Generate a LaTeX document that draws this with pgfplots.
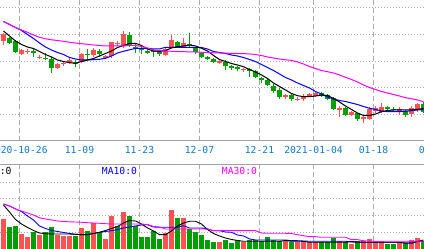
\documentclass[border=0pt]{standalone}
\usepackage{pgfplots}
\pgfplotsset{compat=1.18}
\usepackage{pgfplotstable}
\usepackage{fontspec}
\newfontfamily\mono{DejaVu Sans Mono}
\definecolor{cred}{RGB}{250,82,82}
\definecolor{cgreen}{RGB}{0,158,0}
\definecolor{lblue}{RGB}{20,120,200}
\definecolor{gridc}{RGB}{170,170,170}
\definecolor{axc}{RGB}{160,160,160}
\definecolor{mablue}{RGB}{0,0,255}
\definecolor{mamag}{RGB}{255,0,255}

\pgfplotstableread{
k o h l c
0 100.3 108.3 96 107
3 87 92.3 85.5 91.3
4 89 91.7 87.3 90
6 83.3 86 82 84.3
9 73.3 78.3 71.7 76.7
10 77.2 79.8 74.7 78.2
11 77.7 83.2 76.8 81.3
13 79.3 88 77.5 86.5
15 86 92.7 84.3 91
17 83.3 86.3 82.3 85
18 85 99.3 83 98.7
19 97.2 100.3 95 98.2
20 95 110 93 107
27 86 93.2 84.5 91.8
28 93.7 106 92.7 101
30 94.3 103 92.7 98.3
36 78.7 81 77 79.7
40 71.2 73.3 69.3 72.2
47 44.5 47.3 42.3 45.5
49 41.3 44 39.7 42.3
50 42.3 47.3 40.2 44.7
51 45.5 48.3 43.7 46.5
52 44.7 50.3 44 48.3
56 31.8 34.5 23.5 32.8
58 26 30 25.3 29
60 21.7 25 17.7 23.7
61 22.3 33.5 21 32
62 30 35 27.7 32.7
63 29.3 37.7 27.7 33.7
66 30.5 34.3 25.7 31.5
68 26.7 35 24.3 33.3
69 31.7 38.3 29.3 37
}\redc

\pgfplotstableread{
k o h l c
1 103 104 97 98.3
2 99.8 101 88.3 89.3
5 90.3 91.5 83.5 88.3
7 83.2 88 81 82.2
8 81.7 84 68.3 73.3
12 79 80.7 74.3 76.7
14 87 91.7 81 86
16 89.7 91.7 83.5 87.3
21 106 109.2 94 95.5
22 94.3 96.5 88.3 92.5
23 92.2 94.5 87 91.2
24 89.8 91.7 87.3 88.8
25 90.7 91.8 83.5 89.7
26 88.7 90.5 84.7 87.7
29 99.3 99.7 92.5 93.7
31 97 108 94.3 96
32 92.7 94.3 87.3 88.7
33 88.3 89.3 82.7 83.5
34 83.8 85 81.3 82.8
35 82 82.7 77.7 78.5
37 79.2 80.5 71 75.3
38 74.5 76 71 73.5
39 74 75 70.2 71.8
41 71.8 72.7 64.3 70.8
42 70 71 62.7 63.5
43 62.7 63.7 57.7 60.7
44 61 62 55 56
45 55.3 56.7 48.3 50
46 51.3 53.3 41.5 43.5
48 46 47 40.2 41.8
53 48 48.7 44 45
54 46 47 40.7 42
55 42.7 44 31 32
57 32.7 33.7 25 26
59 27.7 28.3 20.3 21.7
64 34.3 35 30.7 31.8
65 32.3 33.7 30.3 31.3
67 30.2 31.3 24.3 26
70 37 39.3 28 28.5
}\greenc

\pgfplotstableread{
k m5 m10 m30
0 110 119.5 119.5
1 105 116.5 116.5
2 100 113.5 113.5
3 96.5 110.5 111
4 94 106.5 108.7
5 92.5 102.5 106
6 89.5 98 103.7
7 86.5 94 102.2
8 84 91 101.2
9 81 88.5 100.5
10 79.5 86.5 99.7
11 78.3 83.5 98.7
12 77.7 82 98
13 79.5 81 97.3
14 81 81 96.7
15 82.5 81.3 96
16 85 81.7 95.5
17 87.5 82.7 95
18 90 85 95
19 93.5 88 95
20 95.5 89.7 95
21 97.5 91.2 95.5
22 97.7 92.5 95.5
23 95.5 92.7 94.5
24 92 92.7 93
25 90 92 91
26 89.5 92 90.5
27 90.5 93.7 90
28 93 93.7 89.7
29 94.3 93.7 89.5
30 95 93.7 89.3
31 96 93.7 89.2
32 95 93.7 89
33 92.7 93.5 88.7
34 90 92 88.5
35 85.5 89.5 88.2
36 81.5 88.5 88
37 79.5 87.5 87.8
38 77.5 86 87.7
39 76 85 87.5
40 74.3 83.5 87.4
41 71.5 81.5 87
42 69 79.5 86.5
43 66 76.5 85.5
44 62.5 73.5 84
45 58 70.5 83
46 54.5 67 82
47 51 63.5 81.2
48 47.5 61 80.6
49 45.3 58 79
50 44.3 55.5 77
51 44.3 53 74.5
52 45 49.5 72.5
53 46 47 70.5
54 45.5 44 69.3
55 42.5 42 68
56 39 40.5 66
57 35 39.5 63.7
58 31.5 38 61.5
59 28 36.5 59
60 25.5 34.5 56
61 25.5 32.7 53.5
62 27 31.5 51.5
63 29.3 30 49.5
64 30.5 29.3 48
65 31 29.3 46.5
66 31 29.3 45
67 31 29.7 43.3
68 31 30.3 42.2
69 31.7 31 41
70 32.5 31.5 39.3
}\matab

\pgfplotstableread{
k v
0 30
3 15
4 12.3
6 14.3
9 14.3
10 13.3
11 13.3
13 21
15 25.7
17 10
18 33.3
20 36.7
27 15.7
28 39
30 31
36 6.7
40 6.7
47 7.7
49 6.7
50 7.7
51 6.7
52 6.7
56 7.7
58 5
60 7.7
61 10
62 7.7
63 7.7
66 6.7
68 9
69 11
}\redv

\pgfplotstableread{
k v
1 22.3
2 23.3
5 16.7
7 16.7
8 22.3
12 13.3
14 18.3
16 16.7
19 23.3
21 33.3
22 23.3
23 12.3
24 12.3
25 18.3
26 10
29 31
31 20
32 16.7
33 14.3
34 9
35 6.7
37 9
38 5.7
39 9
41 9
42 9
43 7.7
44 12.3
45 9
46 8.3
48 6.7
53 6.7
54 6.7
55 11
57 6.7
59 7.7
64 5
65 5
67 5.7
70 7.7
}\greenv

\pgfplotstableread{
k v5 v10 v30
0 44 45 45
1 37 43 43
2 29.5 40 40
3 25 37.5 38
4 21.5 33 36
5 18.5 29 34
6 16 23 31.2
7 15.3 20.5 30
8 15 18.5 29
9 15 17.5 28
10 15 16.5 27.5
11 15 15.5 27.2
12 14.7 14.7 27
13 14.3 14.3 26.7
14 14.3 14.5 26.3
15 15.5 15.5 26
16 16.7 16.7 25.7
17 18.5 17.5 25.3
18 20.5 18.3 25
19 22.5 19.5 25
20 26 21 25
21 28.5 22 25
22 28 23 25
23 25 24 25
24 21 24.3 24.5
25 18 22 22.5
26 14.3 21.7 22
27 14.3 21.7 20
28 18 21.7 20
29 23 21.7 20
30 26 23.3 20
31 27.7 21 20
32 27.7 21 20
33 25 21 20
34 19.5 20 20
35 15.5 18.3 18.3
36 13 18.3 18.3
37 11 17 18.3
38 9.5 16.7 18.3
39 8.5 14 18.3
40 7.7 13 18.3
41 7.7 10 18.3
42 7.7 9 18.3
43 7.7 9 16
44 7.7 9 15.7
45 7.7 9 15.7
46 7.7 9 15.7
47 8.5 9 15.7
48 7.7 8.3 15.5
49 7.7 8.3 14.3
50 7.7 8 13.3
51 6.7 7.7 12.3
52 6.7 7.7 12.3
53 6.7 7.7 11.7
54 6.7 7.7 11.7
55 6.7 7.7 11.7
56 6.7 7.7 11.7
57 6.7 7.7 11.7
58 7.5 7 9.3
59 7 6.7 9.3
60 6.7 6.7 8.3
61 6.7 6.7 7.7
62 6.7 6.7 7.7
63 6.7 6.7 7.7
64 6.7 6.7 7.7
65 6.7 6.7 7.7
66 6.7 6.7 7.7
67 5.7 6.7 7.7
68 5.7 6.7 7.7
69 7.5 7.5 7.7
70 9 7.7 7.7
}\vmatab

\begin{document}
\begin{tikzpicture}[x=1pt,y=1pt]
\path[use as bounding box] (0,0) rectangle (424,249);
\clip (0,0) rectangle (424,249);
\fill[white] (0,0) rectangle (424,249);
% grid lines
\foreach \gx in {19.5,79.5,139.5,199.5,259.5,313.5,373.5}{
  \draw[gridc, line width=1.2pt, dash pattern=on 5pt off 3pt] (\gx,108) -- (\gx,249);
  \draw[gridc, line width=1.2pt, dash pattern=on 5pt off 3pt] (\gx,0) -- (\gx,84);
}
\foreach \gy in {241.7,214.5,187.8,161,134.3,66.7,50,33.3,16.7}{
  \draw[gridc, line width=1pt, dash pattern=on 1.2pt off 1.8pt] (0,\gy) -- (424,\gy);
}
\draw[axc, line width=1pt] (0,108) -- (424,108);
\draw[axc, line width=1pt] (0,84) -- (424,84);
% date labels
\node[font=\mono\fontsize{9.7}{10}\selectfont, text=lblue, inner sep=0pt, anchor=east] at (47.8,98.7) {2020-10-26};
\foreach \gx/\lab in {79.5/11-09,139.5/11-23,199.5/12-07,259.5/12-21,313.5/2021-01-04,373.5/01-18,433.5/02-01}{
  \node[font=\mono\fontsize{9.7}{10}\selectfont, text=lblue, inner sep=0pt, anchor=center] at (\gx,98.7) {\lab};
}
% legend texts
\node[font=\mono\fontsize{9.7}{10}\selectfont, text=black, inner sep=0pt, anchor=east] at (11.7,78.3) {MA5:0};
\node[font=\mono\fontsize{9.7}{10}\selectfont, text=mablue, inner sep=0pt, anchor=center] at (119.5,78.3) {MA10:0};
\node[font=\mono\fontsize{9.7}{10}\selectfont, text=mamag, inner sep=0pt, anchor=center] at (239.5,78.3) {MA30:0};

\begin{axis}[at={(0,108)}, anchor=south west, width=424pt, height=141pt,
  scale only axis, xmin=-0.58333, xmax=70.08333, ymin=0, ymax=141,
  axis lines=none, ticks=none]
\addplot[draw=none, mark=none, forget plot, error bars/.cd, y dir=both, y explicit, error mark=none,
  error bar style={line width=1pt, draw=cred}]
  table[x=k, y expr={(\thisrow{h}+\thisrow{l})/2}, y error expr={(\thisrow{h}-\thisrow{l})/2}]{\redc};
\addplot[draw=none, mark=none, forget plot, error bars/.cd, y dir=both, y explicit, error mark=none,
  error bar style={line width=5pt, draw=cred}]
  table[x=k, y expr={(\thisrow{o}+\thisrow{c})/2}, y error expr={max(abs(\thisrow{o}-\thisrow{c})/2,0.5)}]{\redc};
\addplot[draw=none, mark=none, forget plot, error bars/.cd, y dir=both, y explicit, error mark=none,
  error bar style={line width=1pt, draw=cgreen}]
  table[x=k, y expr={(\thisrow{h}+\thisrow{l})/2}, y error expr={(\thisrow{h}-\thisrow{l})/2}]{\greenc};
\addplot[draw=none, mark=none, forget plot, error bars/.cd, y dir=both, y explicit, error mark=none,
  error bar style={line width=5pt, draw=cgreen}]
  table[x=k, y expr={(\thisrow{o}+\thisrow{c})/2}, y error expr={max(abs(\thisrow{o}-\thisrow{c})/2,0.5)}]{\greenc};
\addplot[mablue, line width=1pt, mark=none] table[x=k, y=m10]{\matab};
\addplot[black, line width=1pt, mark=none] table[x=k, y=m5]{\matab};
\addplot[mamag, line width=1pt, mark=none] table[x=k, y=m30]{\matab};
\end{axis}

\begin{axis}[at={(0,0)}, anchor=south west, width=424pt, height=84pt,
  scale only axis, xmin=-0.58333, xmax=70.08333, ymin=0, ymax=84,
  axis lines=none, ticks=none]
\addplot[ycomb, line width=5pt, cred, mark=none] table[x=k, y=v]{\redv};
\addplot[ycomb, line width=5pt, cgreen, mark=none] table[x=k, y=v]{\greenv};
\addplot[mablue, line width=0.9pt, mark=none] table[x=k, y=v10]{\vmatab};
\addplot[black, line width=0.9pt, mark=none] table[x=k, y=v5]{\vmatab};
\addplot[mamag, line width=0.9pt, mark=none] table[x=k, y=v30]{\vmatab};
\end{axis}
\end{tikzpicture}
\end{document}
